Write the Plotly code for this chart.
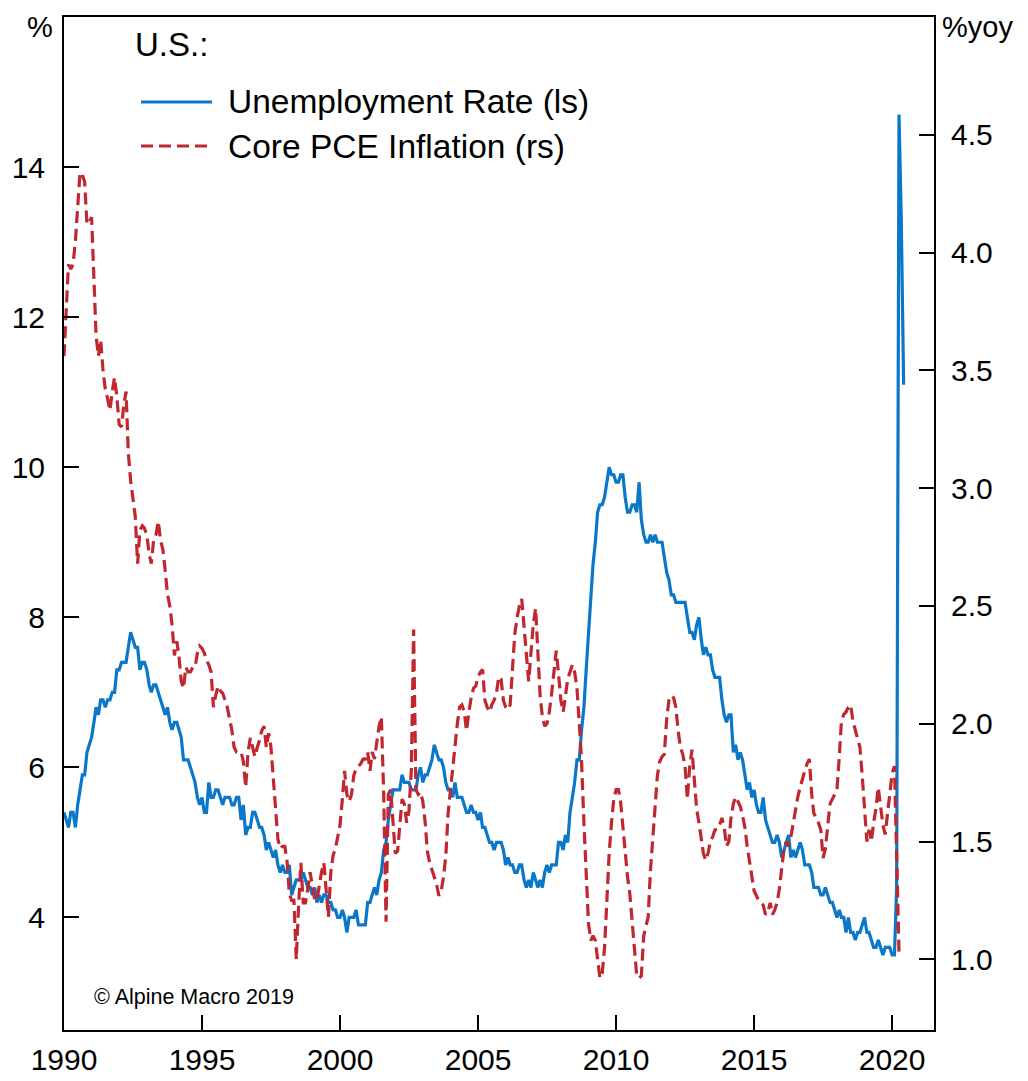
import pandas as pd
import plotly.graph_objects as go

# ---------------- data (monthly, starting Jan 1990) ----------------
unemp_1990s = [
    5.4, 5.3, 5.2, 5.4, 5.4, 5.2, 5.5, 5.7, 5.9, 5.9, 6.2, 6.3,
    6.4, 6.6, 6.8, 6.7, 6.9, 6.9, 6.8, 6.9, 6.9, 7.0, 7.0, 7.3,
    7.3, 7.4, 7.4, 7.4, 7.6, 7.8, 7.7, 7.6, 7.6, 7.3, 7.4, 7.4,
    7.3, 7.1, 7.0, 7.1, 7.1, 7.0, 6.9, 6.8, 6.7, 6.8, 6.6, 6.5,
    6.6, 6.6, 6.5, 6.4, 6.1, 6.1, 6.1, 6.0, 5.9, 5.8, 5.6, 5.5,
    5.6, 5.4, 5.4, 5.8, 5.6, 5.6, 5.7, 5.7, 5.6, 5.5, 5.6, 5.6,
    5.6, 5.5, 5.5, 5.6, 5.6, 5.3, 5.5, 5.1, 5.2, 5.2, 5.4, 5.4,
    5.3, 5.2, 5.2, 5.1, 4.9, 5.0, 4.9, 4.8, 4.9, 4.7, 4.6, 4.7,
    4.6, 4.6, 4.7, 4.3, 4.4, 4.5, 4.5, 4.5, 4.6, 4.5, 4.4, 4.4,
    4.3, 4.4, 4.2, 4.3, 4.2, 4.3, 4.3, 4.2, 4.2, 4.1, 4.1, 4.0,
]
unemp_2000s = [
    4.0, 4.1, 4.0, 3.8, 4.0, 4.0, 4.0, 4.1, 3.9, 3.9, 3.9, 3.9,
    4.2, 4.2, 4.3, 4.4, 4.3, 4.5, 4.6, 4.9, 5.0, 5.3, 5.5, 5.7,
    5.7, 5.7, 5.7, 5.9, 5.8, 5.8, 5.8, 5.7, 5.7, 5.7, 5.9, 6.0,
    5.8, 5.9, 5.9, 6.0, 6.1, 6.3, 6.2, 6.1, 6.1, 6.0, 5.8, 5.7,
    5.7, 5.6, 5.8, 5.6, 5.6, 5.6, 5.5, 5.4, 5.4, 5.5, 5.4, 5.4,
    5.3, 5.4, 5.2, 5.2, 5.1, 5.0, 5.0, 4.9, 5.0, 5.0, 5.0, 4.9,
    4.7, 4.8, 4.7, 4.7, 4.6, 4.6, 4.7, 4.7, 4.5, 4.4, 4.5, 4.4,
    4.6, 4.5, 4.4, 4.5, 4.4, 4.6, 4.7, 4.6, 4.7, 4.7, 4.7, 5.0,
    5.0, 4.9, 5.1, 5.0, 5.4, 5.6, 5.8, 6.1, 6.1, 6.5, 6.8, 7.3,
    7.8, 8.3, 8.7, 9.0, 9.4, 9.5, 9.5, 9.6, 9.8, 10.0, 9.9, 9.9,
]
unemp_2010s = [
    9.8, 9.8, 9.9, 9.9, 9.6, 9.4, 9.4, 9.5, 9.5, 9.4, 9.8, 9.3,
    9.1, 9.0, 9.0, 9.1, 9.0, 9.1, 9.0, 9.0, 9.0, 8.8, 8.6, 8.5,
    8.3, 8.3, 8.2, 8.2, 8.2, 8.2, 8.2, 8.0, 7.8, 7.8, 7.7, 7.9,
    8.0, 7.7, 7.5, 7.6, 7.5, 7.5, 7.3, 7.2, 7.2, 7.2, 6.9, 6.7,
    6.6, 6.7, 6.7, 6.2, 6.3, 6.1, 6.2, 6.1, 5.9, 5.7, 5.8, 5.6,
    5.7, 5.5, 5.4, 5.4, 5.6, 5.3, 5.2, 5.1, 5.0, 5.0, 5.1, 5.0,
    4.8, 4.9, 5.0, 5.1, 4.8, 4.9, 4.8, 4.9, 5.0, 4.9, 4.7, 4.7,
    4.7, 4.6, 4.4, 4.4, 4.4, 4.3, 4.3, 4.4, 4.3, 4.2, 4.2, 4.1,
    4.0, 4.1, 4.0, 4.0, 3.8, 4.0, 3.8, 3.8, 3.7, 3.8, 3.8, 3.9,
    4.0, 3.8, 3.8, 3.7, 3.6, 3.6, 3.7, 3.6, 3.5, 3.6, 3.6, 3.6,
]
unemp_2020 = [3.5, 3.5, 4.4, 14.7, 13.3, 11.1]

core_pce_1990s = [
    3.56, 3.80, 3.95, 3.93, 3.95, 4.05, 4.22, 4.34, 4.33, 4.30, 4.12, 4.13,
    4.15, 3.90, 3.65, 3.56, 3.63, 3.50, 3.42, 3.38, 3.33, 3.41, 3.47, 3.39,
    3.27, 3.26, 3.35, 3.41, 3.15, 3.03, 2.95, 2.88, 2.68, 2.82, 2.84, 2.83,
    2.80, 2.72, 2.68, 2.78, 2.80, 2.86, 2.78, 2.74, 2.65, 2.55, 2.50, 2.42,
    2.29, 2.35, 2.29, 2.18, 2.15, 2.24, 2.22, 2.22, 2.24, 2.24, 2.30, 2.33,
    2.32, 2.30, 2.27, 2.25, 2.22, 2.07, 2.12, 2.16, 2.14, 2.13, 2.10, 2.07,
    2.02, 1.97, 1.90, 1.88, 1.88, 1.88, 1.84, 1.73, 1.88, 1.94, 1.90, 1.86,
    1.90, 1.93, 1.97, 1.99, 1.90, 1.96, 1.90, 1.76, 1.62, 1.51, 1.47, 1.48,
    1.48, 1.41, 1.28, 1.25, 1.25, 1.00, 1.22, 1.41, 1.24, 1.24, 1.30, 1.37,
    1.31, 1.25, 1.25, 1.32, 1.37, 1.41, 1.31, 1.18, 1.37, 1.44, 1.47, 1.52,
]
core_pce_2000s = [
    1.57, 1.68, 1.80, 1.70, 1.67, 1.70, 1.78, 1.81, 1.82, 1.83, 1.85, 1.85,
    1.88, 1.80, 1.88, 1.85, 1.92, 1.99, 2.03, 1.70, 1.16, 1.70, 1.72, 1.60,
    1.45, 1.46, 1.58, 1.68, 1.66, 1.58, 1.63, 1.80, 2.40, 1.72, 1.70, 1.71,
    1.67, 1.58, 1.46, 1.41, 1.38, 1.35, 1.32, 1.27, 1.29, 1.35, 1.44, 1.62,
    1.72, 1.80, 1.90, 2.00, 2.07, 2.08, 2.05, 1.97, 2.05, 2.11, 2.15, 2.16,
    2.20, 2.22, 2.23, 2.10, 2.07, 2.05, 2.08, 2.10, 2.13, 2.20, 2.19, 2.10,
    2.07, 2.06, 2.08, 2.22, 2.38, 2.45, 2.50, 2.53, 2.42, 2.28, 2.18, 2.30,
    2.42, 2.49, 2.28, 2.12, 2.03, 1.99, 2.00, 2.05, 2.13, 2.22, 2.31, 2.21,
    2.10, 2.05, 2.13, 2.19, 2.22, 2.25, 2.22, 2.15, 2.00, 1.84, 1.58, 1.37,
    1.15, 1.08, 1.10, 1.08, 0.99, 0.92, 0.94, 1.05, 1.25, 1.45, 1.58, 1.68,
]
core_pce_2010s = [
    1.72, 1.72, 1.67, 1.55, 1.45, 1.35, 1.28, 1.15, 1.03, 0.93, 0.92, 0.93,
    1.10, 1.15, 1.18, 1.38, 1.52, 1.66, 1.78, 1.84, 1.86, 1.87, 2.02, 2.10,
    2.12, 2.11, 2.07, 1.97, 1.90, 1.87, 1.82, 1.68, 1.82, 1.89, 1.78, 1.64,
    1.58, 1.52, 1.45, 1.42, 1.45, 1.50, 1.52, 1.55, 1.55, 1.57, 1.60, 1.56,
    1.48, 1.50, 1.60, 1.66, 1.69, 1.67, 1.65, 1.61, 1.56, 1.48, 1.41, 1.35,
    1.29, 1.27, 1.25, 1.24, 1.23, 1.19, 1.20, 1.24, 1.19, 1.21, 1.24, 1.30,
    1.40, 1.47, 1.50, 1.48, 1.52, 1.58, 1.64, 1.69, 1.73, 1.77, 1.80, 1.83,
    1.85, 1.70, 1.62, 1.60, 1.58, 1.55, 1.43, 1.47, 1.58, 1.66, 1.68, 1.70,
    1.72, 1.86, 2.01, 2.04, 2.05, 2.07, 2.08, 2.01, 1.97, 1.93, 1.90, 1.78,
    1.62, 1.50, 1.55, 1.50, 1.58, 1.64, 1.73, 1.66, 1.57, 1.53, 1.62, 1.70,
]
core_pce_2020 = [1.79, 1.82, 1.45, 1.03]

x_tick_years = [1990, 1995, 2000, 2005, 2010, 2015, 2020]
left_ticks = [4, 6, 8, 10, 12, 14]
right_ticks = [1.0, 1.5, 2.0, 2.5, 3.0, 3.5, 4.0, 4.5]

# ---------------- build series ----------------
unemp = unemp_1990s + unemp_2000s + unemp_2010s + unemp_2020
core = core_pce_1990s + core_pce_2000s + core_pce_2010s + core_pce_2020
dates_u = pd.date_range("1990-01-01", periods=len(unemp), freq="MS")
dates_c = pd.date_range("1990-01-01", periods=len(core), freq="MS")

BLUE = "#0a77c9"
RED = "#c0272f"
FONT = "Liberation Sans, Arial, sans-serif"

# plot area size (px) used to place legend / notes in paper coordinates
PW, PH = 870, 1013

fig = go.Figure()
fig.add_trace(go.Scatter(x=dates_u, y=unemp, mode="lines", name="Unemployment Rate (ls)",
                         line=dict(color=BLUE, width=3.2), yaxis="y", showlegend=False))
fig.add_trace(go.Scatter(x=dates_c, y=core, mode="lines", name="Core PCE Inflation (rs)",
                         line=dict(color=RED, width=3.2, dash="12px,6px"), yaxis="y2",
                         showlegend=False))

axis_common = dict(showgrid=False, zeroline=False, showline=True, linecolor="black",
                   linewidth=2, ticks="inside", ticklen=15, tickwidth=1.5, tickcolor="black",
                   automargin=False,
                   tickfont=dict(family=FONT, size=30, color="black"))

fig.update_layout(
    width=1020, height=1073,
    margin=dict(l=56, r=94, t=9, b=51, autoexpand=False),
    paper_bgcolor="white", plot_bgcolor="white",
    font=dict(family=FONT, color="black"),
    xaxis=dict(type="date", range=["1990-01-01", "2021-07-08"],
               tickvals=[f"{y}-01-01" for y in x_tick_years],
               ticktext=[str(y) for y in x_tick_years],
               mirror=True, ticklabelstandoff=2, **axis_common),
    yaxis=dict(range=[2.5, 16], tickvals=left_ticks,
               ticktext=[str(v) for v in left_ticks], ticklabelstandoff=11, **axis_common),
    yaxis2=dict(range=[0.7, 5.0], overlaying="y", side="right", tickvals=right_ticks,
                ticktext=[f"{v:.1f}" for v in right_ticks], ticklabelstandoff=9,
                **axis_common),
)

# legend drawn manually (positions relative to plot area)
fig.add_annotation(xref="paper", yref="paper", x=69 / PW, y=(PH - 28) / PH,
                   text="U.S.:", showarrow=False, xanchor="left", yanchor="middle",
                   font=dict(family=FONT, size=33, color="black"))
fig.add_shape(type="line", xref="paper", yref="paper",
              x0=77 / PW, x1=148 / PW, y0=(PH - 85) / PH, y1=(PH - 85) / PH,
              line=dict(color=BLUE, width=3.2))
fig.add_annotation(xref="paper", yref="paper", x=162 / PW, y=(PH - 85) / PH,
                   text="Unemployment Rate (ls)", showarrow=False, xanchor="left",
                   yanchor="middle", font=dict(family=FONT, size=33.5, color="black"))
fig.add_shape(type="line", xref="paper", yref="paper",
              x0=77 / PW, x1=148 / PW, y0=(PH - 129) / PH, y1=(PH - 129) / PH,
              line=dict(color=RED, width=3.2, dash="12px,6px"))
fig.add_annotation(xref="paper", yref="paper", x=162 / PW, y=(PH - 129) / PH,
                   text="Core PCE Inflation (rs)", showarrow=False, xanchor="left",
                   yanchor="middle", font=dict(family=FONT, size=33.5, color="black"))

# axis unit labels (anchored at their top edge so they stay inside the figure)
fig.add_annotation(xref="paper", yref="paper", x=-24 / PW, y=(PH + 7) / PH,
                   text="%", showarrow=False, xanchor="center", yanchor="top",
                   borderpad=0, font=dict(family=FONT, size=29, color="black"))
fig.add_annotation(xref="paper", yref="paper", x=(PW + 7) / PW, y=(PH + 7) / PH,
                   text="%yoy", showarrow=False, xanchor="left", yanchor="top",
                   borderpad=0, font=dict(family=FONT, size=29, color="black"))

# copyright
fig.add_annotation(xref="paper", yref="paper", x=28 / PW, y=33 / PH,
                   text="© Alpine Macro 2019", showarrow=False, xanchor="left",
                   yanchor="middle", font=dict(family=FONT, size=21.5, color="black"))

fig.write_html("out.html")
